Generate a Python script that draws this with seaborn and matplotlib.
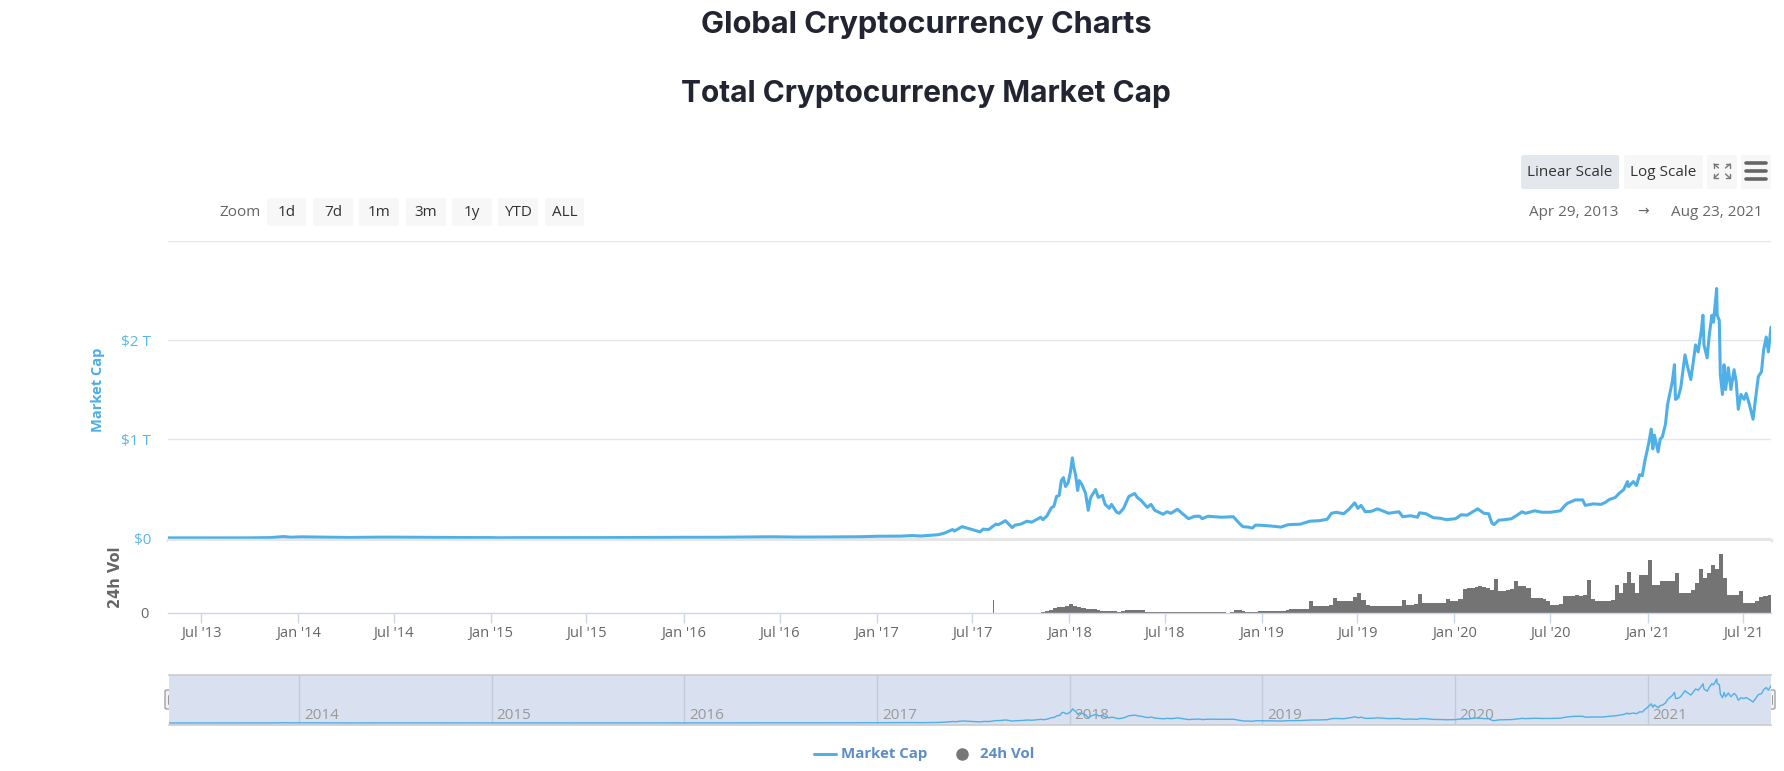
import numpy as np
import pandas as pd
import matplotlib
matplotlib.use("Agg")
import matplotlib.pyplot as plt
import seaborn as sns
from matplotlib.patches import FancyBboxPatch

# ---------------- data ----------------
mc_dates = [
    "2013-04-29", "2013-06-01", "2013-08-01", "2013-10-01", "2013-11-10", "2013-12-04", "2013-12-18",
    "2014-01-06", "2014-02-10", "2014-03-01", "2014-04-10", "2014-06-01", "2014-07-01", "2014-09-01",
    "2014-11-01", "2015-01-01", "2015-01-14", "2015-03-01", "2015-06-01", "2015-08-01", "2015-11-04",
    "2016-01-01", "2016-03-01", "2016-06-17", "2016-08-03", "2016-10-01", "2016-12-01", "2017-01-04",
    "2017-02-15", "2017-03-10", "2017-03-25", "2017-04-27", "2017-05-10", "2017-05-25", "2017-05-28",
    "2017-06-12", "2017-06-25", "2017-07-16", "2017-07-22", "2017-08-01", "2017-08-15", "2017-08-20",
    "2017-09-02", "2017-09-15", "2017-09-20", "2017-10-01", "2017-10-13", "2017-10-22", "2017-11-08",
    "2017-11-12", "2017-11-20", "2017-11-28", "2017-12-03", "2017-12-08", "2017-12-13", "2017-12-17",
    "2017-12-21", "2017-12-25", "2017-12-30", "2018-01-03", "2018-01-07", "2018-01-09", "2018-01-13",
    "2018-01-17", "2018-01-20", "2018-01-25", "2018-02-01", "2018-02-06", "2018-02-10", "2018-02-13",
    "2018-02-20", "2018-02-25", "2018-03-05", "2018-03-10", "2018-03-18", "2018-03-22", "2018-04-01",
    "2018-04-06", "2018-04-14", "2018-04-24", "2018-05-05", "2018-05-10", "2018-05-17", "2018-05-29",
    "2018-06-05", "2018-06-12", "2018-06-18", "2018-06-28", "2018-07-05", "2018-07-13", "2018-07-25",
    "2018-08-05", "2018-08-15", "2018-08-27", "2018-09-05", "2018-09-10", "2018-09-21", "2018-10-05",
    "2018-10-16", "2018-11-08", "2018-11-20", "2018-11-26", "2018-12-07", "2018-12-14", "2018-12-20",
    "2018-12-25", "2019-01-10", "2019-01-30", "2019-02-06", "2019-02-20", "2019-03-15", "2019-04-02",
    "2019-04-20", "2019-05-05", "2019-05-13", "2019-05-22", "2019-06-05", "2019-06-15", "2019-06-26",
    "2019-07-02", "2019-07-08", "2019-07-16", "2019-07-28", "2019-08-08", "2019-08-20", "2019-08-29",
    "2019-09-18", "2019-09-25", "2019-10-10", "2019-10-23", "2019-10-27", "2019-11-08", "2019-11-22",
    "2019-12-05", "2019-12-17", "2020-01-03", "2020-01-14", "2020-01-25", "2020-02-08", "2020-02-14",
    "2020-02-26", "2020-03-06", "2020-03-12", "2020-03-16", "2020-03-25", "2020-04-05", "2020-04-18",
    "2020-04-30", "2020-05-08", "2020-05-15", "2020-06-01", "2020-06-15", "2020-07-01", "2020-07-20",
    "2020-07-27", "2020-08-02", "2020-08-17", "2020-08-31", "2020-09-05", "2020-09-20", "2020-10-05",
    "2020-10-13", "2020-10-21", "2020-11-01", "2020-11-08", "2020-11-17", "2020-11-24", "2020-11-26",
    "2020-12-05", "2020-12-11", "2020-12-17", "2020-12-22", "2020-12-27", "2021-01-03", "2021-01-08",
    "2021-01-11", "2021-01-14", "2021-01-21", "2021-01-25", "2021-01-29", "2021-02-04", "2021-02-08",
    "2021-02-12", "2021-02-17", "2021-02-21", "2021-02-23", "2021-02-28", "2021-03-05", "2021-03-13",
    "2021-03-17", "2021-03-24", "2021-03-28", "2021-04-02", "2021-04-07", "2021-04-13", "2021-04-16",
    "2021-04-18", "2021-04-24", "2021-04-28", "2021-05-03", "2021-05-06", "2021-05-12", "2021-05-13",
    "2021-05-17", "2021-05-19", "2021-05-23", "2021-05-26", "2021-05-29", "2021-06-03", "2021-06-08",
    "2021-06-14", "2021-06-18", "2021-06-22", "2021-06-27", "2021-07-03", "2021-07-07", "2021-07-13",
    "2021-07-20", "2021-07-25", "2021-07-30", "2021-08-05", "2021-08-09", "2021-08-14", "2021-08-18",
    "2021-08-23",
]
# market cap, trillions USD
mc_values = [
    0.0015, 0.0012, 0.0012, 0.0017, 0.0045, 0.0150, 0.0080,
    0.0120, 0.0090, 0.0080, 0.0055, 0.0085, 0.0085, 0.0065,
    0.0048, 0.0042, 0.0025, 0.0038, 0.0035, 0.0040, 0.0065,
    0.0070, 0.0072, 0.0125, 0.0095, 0.0105, 0.0130, 0.0180,
    0.0190, 0.0250, 0.0200, 0.0330, 0.0500, 0.0860, 0.0700,
    0.1150, 0.0950, 0.0620, 0.0900, 0.0850, 0.1400, 0.1350,
    0.1750, 0.1050, 0.1300, 0.1400, 0.1700, 0.1600, 0.2100,
    0.1850, 0.2250, 0.3050, 0.3200, 0.4200, 0.4300, 0.5800,
    0.6100, 0.5200, 0.5600, 0.6600, 0.8100, 0.7300, 0.6400,
    0.4800, 0.5800, 0.5400, 0.4500, 0.2800, 0.4000, 0.4300,
    0.4900, 0.4100, 0.4300, 0.3400, 0.3000, 0.3400, 0.2600,
    0.2500, 0.3000, 0.4200, 0.4500, 0.4100, 0.3800, 0.3100,
    0.3400, 0.2800, 0.2650, 0.2400, 0.2650, 0.2500, 0.2900,
    0.2400, 0.1950, 0.2200, 0.2200, 0.1950, 0.2200, 0.2150,
    0.2100, 0.2150, 0.1450, 0.1150, 0.1100, 0.1000, 0.1300,
    0.1300, 0.1250, 0.1150, 0.1100, 0.1350, 0.1400, 0.1700,
    0.1750, 0.1900, 0.2500, 0.2600, 0.2450, 0.2900, 0.3550,
    0.3000, 0.3300, 0.2650, 0.2700, 0.2950, 0.2700, 0.2500,
    0.2650, 0.2150, 0.2250, 0.2100, 0.2550, 0.2450, 0.2050,
    0.2000, 0.1850, 0.1950, 0.2350, 0.2300, 0.2750, 0.2950,
    0.2500, 0.2450, 0.1500, 0.1350, 0.1800, 0.1850, 0.1950,
    0.2350, 0.2650, 0.2500, 0.2750, 0.2600, 0.2600, 0.2750,
    0.3200, 0.3500, 0.3850, 0.3850, 0.3300, 0.3450, 0.3400,
    0.3600, 0.3900, 0.4100, 0.4500, 0.4900, 0.5700, 0.5200,
    0.5700, 0.5300, 0.6400, 0.6300, 0.7800, 0.9500, 1.1000,
    0.9000, 1.0400, 0.8700, 1.0000, 1.0200, 1.1500, 1.3500,
    1.4500, 1.5800, 1.7500, 1.4000, 1.4200, 1.5200, 1.8500,
    1.7500, 1.6000, 1.7500, 1.9500, 1.8800, 2.1000, 2.2500,
    1.9500, 1.8200, 2.0500, 2.2500, 2.1800, 2.5200, 2.2500,
    2.2000, 1.6500, 1.4500, 1.7500, 1.5000, 1.7200, 1.5000,
    1.7000, 1.5800, 1.3000, 1.4500, 1.4000, 1.4600, 1.3500,
    1.2000, 1.4200, 1.6300, 1.6800, 1.9000, 2.0300, 1.8800,
    2.1300,
]

# 24h volume, billions USD: four readings per month starting Nov 2017
vol_start_month = "2017-11"
vol_by_month = [
    [0, 10, 14, 21], [35, 42, 42, 49],                                     # 2017 Nov-Dec
    [61, 49, 42, 35], [28, 28, 25, 21], [11, 11, 11, 11], [8, 11, 23, 23],  # 2018 Jan-Apr
    [23, 23, 21, 8], [7, 7, 7, 7], [7, 8, 7, 7], [7, 7, 7, 8],
    [7, 7, 8, 7], [7, 7, 7, 0], [7, 18, 18, 17], [7, 7, 10, 12],
    [12, 14, 12, 13], [14, 15, 20, 28], [28, 28, 28, 30], [84, 49, 49, 49],  # 2019
    [49, 56, 105, 84], [84, 84, 84, 112], [140, 89, 56, 49], [49, 49, 49, 49],
    [49, 49, 49, 91], [56, 56, 63, 133], [70, 70, 70, 70], [70, 70, 98, 84],
    [84, 98, 168, 175], [175, 182, 189, 182], [175, 161, 238, 154], [154, 161, 168, 224],  # 2020
    [189, 189, 175, 105], [105, 105, 98, 84], [56, 56, 63, 119], [119, 119, 126, 119],
    [126, 231, 98, 84], [84, 84, 84, 91], [196, 140, 210, 287], [210, 140, 266, 266],
    [371, 196, 196, 224], [224, 224, 224, 280], [140, 140, 140, 161], [210, 308, 245, 280],  # 2021
    [336, 308, 413, 245], [126, 126, 126, 154], [70, 70, 70, 84], [112, 119, 126],
]
vol_spike_date = "2017-08-10"
vol_spike_value = 93

xtick_months = [1, 7]
nav_years = [2014, 2015, 2016, 2017, 2018, 2019, 2020, 2021]
range_start, range_end = "2013-04-29", "2021-08-23"

# ---------------- style ----------------
sns.set_theme(style="white")
plt.rcParams["font.family"] = ["Open Sans", "DejaVu Sans"]

BLUE = "#4fb0e8"
W, H = 1784, 771
fig = plt.figure(figsize=(W / 100, H / 100), dpi=100)


def box(x0, y0, x1, y1):
    return [x0 / W, 1 - y1 / H, (x1 - x0) / W, (y1 - y0) / H]


ui = fig.add_axes([0, 0, 1, 1])
ui.set_xlim(0, W)
ui.set_ylim(H, 0)
ui.axis("off")

X0, X1 = pd.Timestamp(range_start), pd.Timestamp(range_end)
df = pd.DataFrame({"date": pd.to_datetime(mc_dates), "cap": mc_values})

# ---------------- main panel ----------------
ax = fig.add_axes(box(168, 241, 1771, 540))
sns.lineplot(data=df, x="date", y="cap", ax=ax, color=BLUE, lw=2.2)
ax.set_xlim(X0, X1)
ax.set_ylim(-0.02, 3.0)
ax.set_yticks([0, 1, 2, 3])
ax.set_yticklabels(["$0", "$1 T", "$2 T", ""])
ax.grid(axis="y", color="#e6e6e6", lw=1)
ax.set_xticks([])
ax.set_xlabel("")
ax.set_ylabel("")
for s in ["top", "left", "right"]:
    ax.spines[s].set_visible(False)
ax.spines["bottom"].set_color("#e6e6e6")
ax.spines["bottom"].set_linewidth(2.5)
ax.tick_params(axis="y", length=0, pad=12, labelsize=11, labelcolor="#5ab6ea")

# ---------------- volume panel ----------------
axv = fig.add_axes(box(168, 541, 1771, 613))
start = pd.Period(vol_start_month, freq="M")
for i, vals in enumerate(vol_by_month):
    p = start + i
    m0 = p.start_time
    ndays = p.days_in_month
    step = ndays / 4.0
    pos = [m0 + pd.Timedelta(days=k * step) for k in range(len(vals))]
    axv.bar(pos, vals, width=step, align="edge", color="#747474", edgecolor="none")
axv.bar([pd.Timestamp(vol_spike_date)], [vol_spike_value], width=1.5, color="#747474", edgecolor="none")
axv.set_xlim(X0, X1)
axv.set_ylim(0, 504)
axv.set_yticks([0])
axv.set_yticklabels(["0"])
for s in ["top", "left", "right"]:
    axv.spines[s].set_visible(False)
axv.spines["bottom"].set_color("#ccd6eb")
axv.spines["bottom"].set_linewidth(1)
xt = [d for d in pd.date_range("2013-01-01", "2021-12-31", freq="MS") if d.month in xtick_months and X0 <= d <= X1]
axv.set_xticks(xt)
axv.set_xticklabels([f"{d:%b} '{d:%y}" for d in xt])
axv.tick_params(axis="x", length=7, width=1, color="#ccd6eb", labelcolor="#666666", labelsize=10.5, pad=2, bottom=True)
axv.tick_params(axis="y", length=0, pad=14, labelsize=10.5, labelcolor="#666666")
axv.grid(False)

# ---------------- navigator ----------------
axn = fig.add_axes(box(169, 675, 1771, 725))
axn.set_facecolor("#d9e0f0")
for y in nav_years:
    axn.axvline(pd.Timestamp(f"{y}-01-01"), color="#c3cadb", lw=1, zorder=1)
    axn.text(pd.Timestamp(f"{y}-01-01") + pd.Timedelta(days=9), -0.02, str(y), color="#999999",
             fontsize=11, ha="left", va="bottom", zorder=2)
sns.lineplot(data=df, x="date", y="cap", ax=axn, color=BLUE, lw=1.0, zorder=3)
axn.set_xlim(X0, X1)
axn.set_ylim(-0.115, 2.75)
axn.set_xticks([])
axn.set_yticks([])
axn.set_xlabel("")
axn.set_ylabel("")
for s in ["left", "right"]:
    axn.spines[s].set_visible(False)
for s in ["top", "bottom"]:
    axn.spines[s].set_color("#cccccc")
    axn.spines[s].set_linewidth(1.2)
axn.grid(False)

# navigator handles
for hx in [169, 1771]:
    ui.add_patch(FancyBboxPatch((hx - 4, 690), 8, 19, boxstyle="round,pad=0,rounding_size=1.5",
                                fc="#f2f2f2", ec="#999999", lw=0.9, zorder=5))
    for dx in (-1.2, 1.2):
        ui.plot([hx + dx, hx + dx], [695, 704], color="#999999", lw=0.7, zorder=6)

# ---------------- axis titles ----------------
ui.text(98, 390, "Market Cap", rotation=90, ha="center", va="center", color="#4aaee6",
        fontsize=10.5, fontweight="bold")
ui.text(116, 577, "24h Vol", rotation=90, ha="center", va="center", color="#666666",
        fontsize=10.5, fontweight="bold", family=["DejaVu Sans"])

# ---------------- titles ----------------
ui.text(926, 33, "Global Cryptocurrency Charts", ha="center", va="baseline", fontsize=22.2,
        fontweight="bold", color="#222531", family=["Inter", "DejaVu Sans"])
ui.text(926, 102, "Total Cryptocurrency Market Cap", ha="center", va="baseline", fontsize=21.5,
        fontweight="bold", color="#222531", family=["Inter", "DejaVu Sans"])

# ---------------- buttons ----------------
def button(x0, x1, y0, y1, label, fc="#f7f7f7", size=11):
    ui.add_patch(FancyBboxPatch((x0, y0), x1 - x0, y1 - y0, boxstyle="round,pad=0,rounding_size=2",
                                fc=fc, ec="none", zorder=2))
    if label:
        ui.text((x0 + x1) / 2, (y0 + y1) / 2 + 0.5, label, ha="center", va="center",
                fontsize=size, color="#333333", zorder=3)


button(1521, 1619, 155, 189, "Linear Scale", fc="#e4e7ec")
button(1624, 1703, 155, 189, "Log Scale")
button(1707, 1737, 155, 189, "")
button(1741, 1771, 155, 189, "")
# fullscreen icon
ic = "#777777"
cx, cy = 1722, 171
for sx in (-1, 1):
    for sy in (-1, 1):
        kx, ky = cx + sx * 8, cy + sy * 7
        ui.plot([cx + sx * 3.5, kx], [cy + sy * 3, ky], color=ic, lw=1, zorder=4)
        ui.plot([kx - sx * 4, kx, kx], [ky, ky, ky - sy * 4], color=ic, lw=1, zorder=4)
# menu icon
for yy in (163, 171, 179):
    ui.plot([1746, 1766], [yy, yy], color="#666666", lw=2.6, solid_capstyle="round", zorder=4)

ui.text(1529, 212, "Apr 29, 2013", ha="left", va="center", fontsize=11, color="#666666")
ui.text(1643, 212, "\u2192", ha="center", va="center", fontsize=10, color="#666666")
ui.text(1763, 212, "Aug 23, 2021", ha="right", va="center", fontsize=11, color="#666666")

ui.text(219, 212, "Zoom", ha="left", va="center", fontsize=11, color="#666666")
for (x0, x1, lab) in [(267, 306, "1d"), (313, 353, "7d"), (359, 399, "1m"), (406, 446, "3m"),
                      (452, 492, "1y"), (498, 538, "YTD"), (545, 584, "ALL")]:
    button(x0, x1, 198, 226, lab)

# ---------------- legend ----------------
ui.plot([814, 836], [754, 754], color=BLUE, lw=2.2)
ui.text(841, 754, "Market Cap", ha="left", va="center", fontsize=10.8, fontweight="bold", color="#5b8dc9")
ui.plot([962], [754], marker="o", ms=9, color="#777777", mec="none")
ui.text(980, 754, "24h Vol", ha="left", va="center", fontsize=10.8, fontweight="bold", color="#5b8dc9")

fig.savefig("out.png", dpi=100)
